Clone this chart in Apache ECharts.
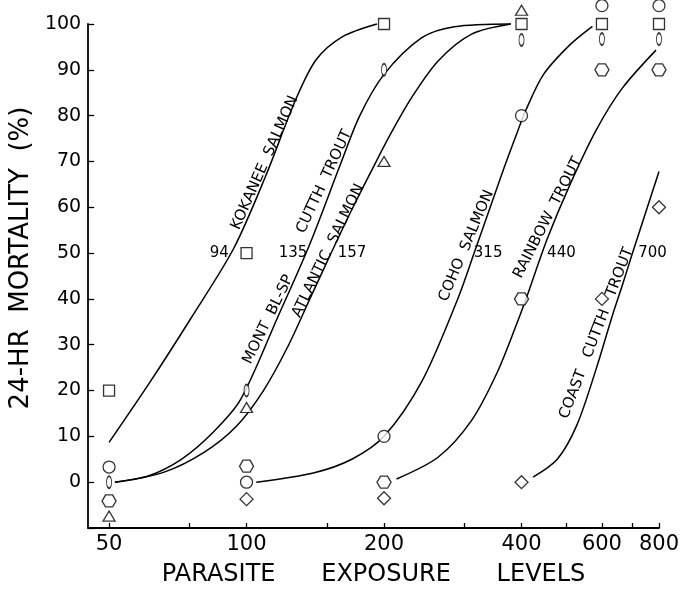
<!DOCTYPE html>
<html><head><meta charset="utf-8">
<script src="https://cdn.jsdelivr.net/npm/echarts@6/dist/echarts.min.js"></script>
<style>html,body{margin:0;padding:0;background:#fff}#c{width:688px;height:592px}</style>
</head><body><div id="c"></div>
<script>
// ---- data ----
const exposures = [50, 100, 200, 400, 600, 800];
const xTickValues = [50, 75, 100, 150, 200, 300, 400, 500, 600, 700, 800];
const xLabelValues = [50, 100, 200, 400, 600, 800];
// observed mortality (%) per species at each exposure level (as plotted)
const kokanee  = [20, 50, 100, 100, 100, 100];
const montBlSp = [0, 20, 90, 96.5, 96.7, 96.7];
const atlantic = [-7.4, 16.3, 70, 103, null, null];
const coho     = [3.3, 0, 10, 80, 104, 104];
const rainbow  = [-4.1, 3.5, 0, 40, 90, 90];
const coast    = [null, -3.7, -3.5, 0, 40, 60];
// fitted curves [exposure, %]
const kokaneeCurve  = [[50,8.7],[61.6,22],[75.8,36],[93.7,51],[110,66.7],[128,83.4],[142,92.2],[162,97.2],[193,100]];
const montCurve     = [[51.5,0],[60.7,1.3],[72,5],[84.5,10.9],[97,18],[117,36],[137.6,52],[160,69],[177,80],[200,89],[242,97],[285,99.4],[379,100]];
const atlanticCurve = [[51.5,0],[66,2.2],[80.7,6.5],[95,12.2],[108.9,20],[123,29.5],[137.6,40],[154,50.5],[171,60],[190,69],[208,76.5],[230,84],[263,92],[311,97.8],[379,100]];
const cohoCurve     = [[105,0],[140,2],[170,5],[200,10],[242,22],[290,40],[315,50],[366,68.5],[392,76.5],[408,81],[447,89],[511,95.5],[572,99.5]];
const rainbowCurve  = [[213,0.7],[263,5.5],[311,13.5],[354,24],[392,35],[411,40.5],[455,53],[511,65],[584,77],[665,86],[788,94.3]];
const coastCurve    = [[424,1.1],[479,5],[529,12.5],[584,25],[633,36.5],[665,43],[700,50],[800,67.8]];
const lc50 = [94, 135, 157, 315, 440, 700];
const curveNames = ['KOKANEE  SALMON', 'MONT  BL-SP', 'CUTTH  TROUT', 'ATLANTIC  SALMON', 'COHO  SALMON', 'RAINBOW  TROUT', 'COAST   CUTTH   TROUT'];

// ---- layout (not data) ----
const curveLabelAnchors = [[109.7,69.7],[111.6,35.5],[148,65.6],[151,50.5],[303,51.6],[457,57.7],[584,32.5]];
const curveLabelAngles = [66, 64, 65, 64, 67, 63, 69];
const lc50Dx = [-15, -13, 16, 14, 21, 20];

const FONT = '"DejaVu Sans", sans-serif';
const chart = echarts.init(document.getElementById('c'), null, {renderer: 'canvas'});

const hexPath = 'path://M0,6 L3.5,0 L10.5,0 L14,6 L10.5,12 L3.5,12 Z';
function pts(vals) {
  const out = [];
  exposures.forEach((x, i) => { if (vals[i] != null) out.push([x, vals[i]]); });
  return out;
}
function marker(name, vals, symbol, size) {
  return {
    name, type: 'scatter', data: pts(vals), symbol, symbolSize: size, clip: false, z: 5,
    itemStyle: {color: '#fff', borderColor: '#000', borderWidth: 1.3}, silent: true
  };
}
function curve(name, data) {
  return {
    name, type: 'line', data, smooth: 0.3, showSymbol: false, clip: false, z: 3,
    lineStyle: {color: '#000', width: 1.5}, silent: true
  };
}

chart.setOption({
  animation: false,
  backgroundColor: '#fff',
  grid: {left: 82, right: 29, top: 24, bottom: 64},
  xAxis: {
    type: 'log', logBase: 10, min: 45, max: 800,
    name: 'PARASITE      EXPOSURE      LEVELS', nameLocation: 'middle', nameGap: 35,
    nameTextStyle: {fontFamily: FONT, fontSize: 24, color: '#000'},
    axisLine: {onZero: false, lineStyle: {color: '#000', width: 1.8}},
    axisTick: {inside: true, length: 5, lineStyle: {color: '#000', width: 1.3}, customValues: xTickValues},
    axisLabel: {fontFamily: FONT, fontSize: 21, color: '#000', margin: 6, customValues: xLabelValues},
    splitLine: {show: false}, minorTick: {show: false}
  },
  yAxis: {
    type: 'value', min: -10, max: 100, interval: 10,
    name: '24-HR  MORTALITY  (%)', nameLocation: 'middle', nameGap: 34,
    nameTextStyle: {fontFamily: FONT, fontSize: 26, color: '#000', padding: [0, 0, 0, 36]},
    axisLine: {show: true, onZero: false, lineStyle: {color: '#000', width: 1.8}},
    axisTick: {show: true, inside: true, length: 6, lineStyle: {color: '#000', width: 1.3}},
    axisLabel: {fontFamily: FONT, fontSize: 19, color: '#000', margin: 7,
      formatter: v => (v < 0 ? '' : String(v))},
    splitLine: {show: false}
  },
  series: [
    curve('Kokanee', kokaneeCurve),
    curve('Mont', montCurve),
    curve('Atlantic', atlanticCurve),
    curve('Coho', cohoCurve),
    curve('Rainbow', rainbowCurve),
    curve('Coast', coastCurve),
    marker('Kokanee pts', kokanee, 'rect', 11),
    marker('Mont pts', montBlSp, 'circle', [5, 12]),
    marker('Atlantic pts', atlantic, 'triangle', [12, 10]),
    marker('Coho pts', coho, 'circle', 12),
    marker('Rainbow pts', rainbow, hexPath, [14, 12]),
    marker('Coast pts', coast, 'diamond', [13, 13])
  ]
});

const graphics = [];
curveNames.forEach((t, i) => {
  const p = chart.convertToPixel({gridIndex: 0}, curveLabelAnchors[i]);
  graphics.push({
    type: 'text', x: p[0], y: p[1], rotation: curveLabelAngles[i] * Math.PI / 180, z: 10,
    style: {text: t, fill: '#000', font: '15px ' + FONT, align: 'center', verticalAlign: 'middle',
      textAlign: 'center', textVerticalAlign: 'middle'}
  });
});
lc50.forEach((v, i) => {
  const p = chart.convertToPixel({gridIndex: 0}, [v, 50]);
  graphics.push({
    type: 'text', x: p[0] + lc50Dx[i], y: p[1], z: 10,
    style: {text: String(v), fill: '#000', font: '15px ' + FONT, align: 'center', verticalAlign: 'middle',
      textAlign: 'center', textVerticalAlign: 'middle'}
  });
});
chart.setOption({graphic: graphics});
</script></body></html>
